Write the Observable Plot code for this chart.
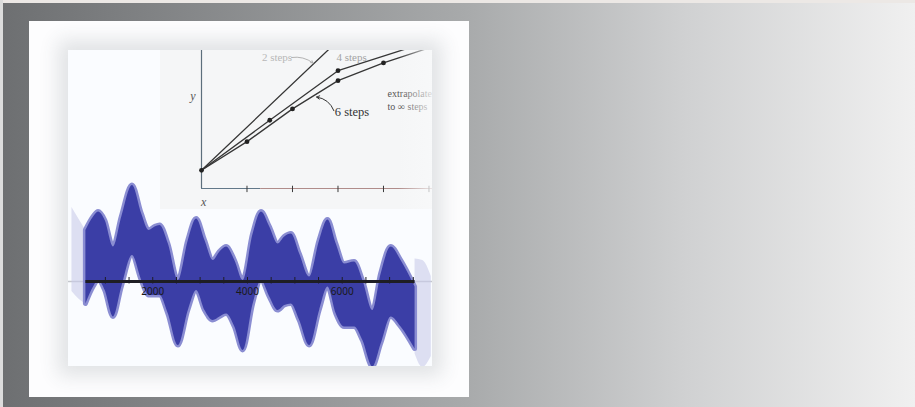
<!DOCTYPE html>
<html>
<head>
<meta charset="utf-8">
<script src="https://cdn.jsdelivr.net/npm/d3@7"></script>
<script src="https://cdn.jsdelivr.net/npm/@observablehq/plot@0.6"></script>
<style>
  html, body { margin: 0; padding: 0; }
  body {
    width: 915px; height: 407px; overflow: hidden; position: relative;
    background: linear-gradient(to right, #6d6f71 0%, #7b7d7f 12%, #a8aaab 51%, #d0d1d2 75%, #f0f0f0 100%);
    font-family: "Liberation Sans", Arial, sans-serif;
  }
  #edgeTop { position: absolute; left: 0; top: 0; width: 915px; height: 3px; background: #ece8e5; }
  #edgeLeft { position: absolute; left: 0; top: 0; width: 3px; height: 407px; background: #dcdcdc; }
  #panel { position: absolute; left: 29px; top: 21px; width: 440px; height: 376px; background: #fdfdfe; }
  #frame {
    position: absolute; left: 68px; top: 50px; width: 364px; height: 316px;
    overflow: hidden; background: #fafcff;
    box-shadow: 0 0 18px 10px rgba(60, 70, 80, 0.14);
  }
  #wave { position: absolute; left: 0; top: 0; }
  #euler { position: absolute; left: 92px; top: 0; width: 272px; height: 159px; overflow: hidden; }
  #washRight {
    position: absolute; left: 330px; top: 0; width: 34px; height: 159px;
    background: linear-gradient(to right, rgba(248, 249, 250, 0), rgba(248, 249, 250, 0.8));
  }
  #frame svg { display: block; }
</style>
</head>
<body>
<div id="edgeTop"></div>
<div id="edgeLeft"></div>
<div id="panel"></div>
<div id="frame">
  <div id="wave"></div>
  <div id="euler"></div>
  <div id="washRight"></div>
</div>
<script>
// ---- Euler steps: y against x for 2, 4 and 6 steps ----
const twoStepX = [0, 3];
const twoStepY = [0.40, 3.25];
const fourStepX = [0, 1.5, 3, 4.5];
const fourStepY = [0.40, 1.50, 2.59, 3.07];
const sixStepX = [0, 1, 2, 3, 4, 5];
const sixStepY = [0.40, 1.03, 1.75, 2.37, 2.76, 3.09];
const stepTicks = [1, 2, 3, 4, 5];

// ---- Oscillating signal: upper and lower edges of the band ----
const waveX = [589, 751, 856, 996, 1172, 1347, 1572, 1768, 1923, 2049, 2154, 2330, 2540, 2751, 2926, 3102,
  3277, 3418, 3558, 3733, 3909, 4119, 4295, 4470, 4646, 4786, 4926, 5102, 5312, 5523, 5698, 5874,
  6049, 6260, 6435, 6646, 6821, 7032, 7242, 7537];
const waveUpper = [1.02, 1.29, 1.39, 1.22, 0.69, 1.29, 1.92, 1.35, 1.02, 1.09, 1.12, 0.75, 0.02, 0.82, 1.25, 0.82,
  0.42, 0.59, 0.69, 0.42, 0.02, 0.95, 1.39, 1.09, 0.75, 0.89, 0.95, 0.55, 0.09, 0.82, 1.23, 0.75,
  0.35, 0.39, 0.02, -0.58, 0.15, 0.69, 0.42, -0.11];
const waveLower = [-0.45, -0.11, 0.02, -0.18, -0.71, -0.11, 0.52, 0.02, -0.28, -0.28, -0.28, -0.65, -1.28, -0.58, -0.18, -0.58,
  -0.78, -0.71, -0.65, -0.91, -1.38, -0.45, 0.02, -0.31, -0.58, -0.48, -0.45, -0.78, -1.28, -0.58, -0.11, -0.65,
  -0.91, -0.91, -1.18, -1.71, -1.25, -0.71, -0.91, -1.35];
// faint continuation beyond both ends
const fadeLeftX = [295, 440, 589];
const fadeLeftUpper = [1.48, 1.25, 1.02];
const fadeLeftLower = [-0.20, -0.35, -0.45];
const fadeRightX = [7537, 7700, 7880];
const fadeRightUpper = [0.45, 0.42, 0.10];
const fadeRightLower = [-1.45, -1.72, -1.50];
const minorTicks = [1000, 1500, 2000, 2500, 3000, 3500, 4000, 4500, 5000, 5500, 6000, 6500, 7000, 7500];
const tickLabels = [2000, 4000, 6000];

// ---- signal chart ----
const band = waveX.map((x, i) => ({x, upper: waveUpper[i], lower: waveLower[i]}));
const leftFade = fadeLeftX.map((x, i) => ({x, upper: fadeLeftUpper[i], lower: fadeLeftLower[i]}));
const rightFade = fadeRightX.map((x, i) => ({x, upper: fadeRightUpper[i], lower: fadeRightLower[i]}));

const wave = Plot.plot({
  width: 364, height: 316,
  marginTop: 0, marginRight: 0, marginBottom: 0, marginLeft: 0,
  x: {domain: [222, 7905], axis: null},
  y: {domain: [-1.70, 4.62], axis: null},
  style: {background: "transparent"},
  marks: [
    Plot.ruleY([0], {stroke: "#c4c6cc", strokeWidth: 1.5}),
    Plot.areaY(leftFade, {x: "x", y1: "lower", y2: "upper", fill: "#c9cbea", fillOpacity: 0.6, curve: "monotone-x"}),
    Plot.areaY(rightFade, {x: "x", y1: "lower", y2: "upper", fill: "#c9cbea", fillOpacity: 0.6, curve: "monotone-x"}),
    Plot.areaY(band, {x: "x", y1: "lower", y2: "upper", fill: "#7d80cb", stroke: "#8a8dd2", strokeWidth: 5, curve: "monotone-x"}),
    Plot.areaY(band, {x: "x", y1: "lower", y2: "upper", fill: "#3b3ea6", curve: "monotone-x"}),
    Plot.ruleY([0], {x1: waveX[0], x2: waveX[waveX.length - 1], stroke: "#1e1e24", strokeWidth: 3}),
    Plot.ruleX(minorTicks, {x: d => d, y1: -0.05, y2: 0.08, stroke: "#1e1e24", strokeWidth: 1}),
    Plot.text(tickLabels, {x: d => d, y: -0.20, text: d => String(d), fontSize: 10, fill: "#1a1a1a"})
  ]
});
document.getElementById("wave").appendChild(wave);

// ---- Euler steps chart ----
const stepRows = [
  ...twoStepX.map((x, i) => ({series: "2 steps", x, y: twoStepY[i]})),
  ...fourStepX.map((x, i) => ({series: "4 steps", x, y: fourStepY[i]})),
  ...sixStepX.map((x, i) => ({series: "6 steps", x, y: sixStepY[i]}))
];
const stepDots = [
  {x: sixStepX[0], y: sixStepY[0]},
  ...fourStepX.slice(1, 3).map((x, i) => ({x, y: fourStepY[i + 1]})),
  ...sixStepX.slice(1, 5).map((x, i) => ({x, y: sixStepY[i + 1]}))
];

const serif = "Liberation Serif, DejaVu Serif, serif";
const euler = Plot.plot({
  width: 272, height: 159,
  marginTop: 0, marginRight: 0, marginBottom: 21, marginLeft: 41,
  x: {domain: [0, 5.077], axis: null},
  y: {domain: [0, 3.033], axis: null},
  style: {background: "#f5f6f7"},
  marks: [
    Plot.ruleY([0], {x1: 0, x2: 1.3, stroke: "#627889", strokeWidth: 1.2}),
    Plot.ruleY([0], {x1: 1.3, x2: 5.2, stroke: "#b08c8a", strokeWidth: 1.2}),
    Plot.ruleX([0], {y1: 0, y2: 3.1, stroke: "#5c6e7c", strokeWidth: 1.2}),
    Plot.ruleX(stepTicks, {x: d => d, y1: -0.09, y2: 0.05, stroke: "#3a3a3a", strokeWidth: 1}),
    Plot.line(stepRows, {x: "x", y: "y", z: "series", stroke: "#363636", strokeWidth: 1.3, clip: true}),
    Plot.dot(stepDots, {x: "x", y: "y", r: 2.4, fill: "#222", stroke: "none"}),
    Plot.arrow([0], {x1: 1.98, y1: 2.88, x2: 2.45, y2: 2.76, bend: true, stroke: "#aaa", strokeWidth: 0.9, headLength: 4}),
    Plot.arrow([0], {x1: 2.91, y1: 1.71, x2: 2.53, y2: 2.01, bend: -30, stroke: "#333", strokeWidth: 1, headLength: 5}),
    Plot.text(["2 steps"], {x: 1.66, y: 2.87, text: d => d, fontSize: 11, fontFamily: serif, fill: "#b8b8b8"}),
    Plot.text(["4 steps"], {x: 3.30, y: 2.87, text: d => d, fontSize: 11, fontFamily: serif, fill: "#a4a4a4"}),
    Plot.text(["6 steps"], {x: 2.93, y: 1.69, text: d => d, textAnchor: "start", fontSize: 12.5, fontFamily: serif, fill: "#333"}),
    Plot.text(["extrapolate"], {x: 4.09, y: 2.08, text: d => d, textAnchor: "start", fontSize: 10, fontFamily: serif, fill: "#555"}),
    Plot.text(["to \u221e steps"], {x: 4.09, y: 1.79, text: d => d, textAnchor: "start", fontSize: 10, fontFamily: serif, fill: "#555"}),
    Plot.text(["y"], {x: -0.19, y: 2.04, text: d => d, fontSize: 12, fontStyle: "italic", fontFamily: serif, fill: "#555"}),
    Plot.text(["x"], {x: 0.05, y: -0.29, text: d => d, fontSize: 12, fontStyle: "italic", fontFamily: serif, fill: "#555"})
  ]
});
document.getElementById("euler").appendChild(euler);
</script>
</body>
</html>
